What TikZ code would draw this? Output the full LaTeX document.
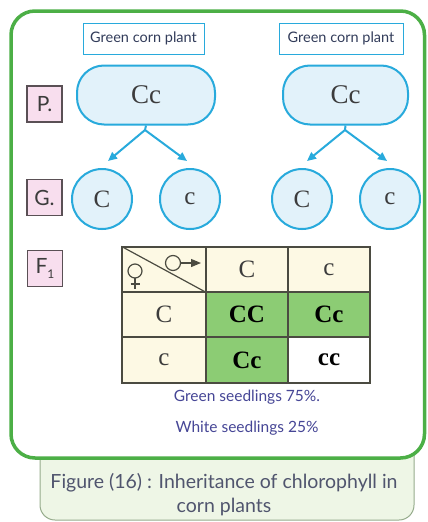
\documentclass[tikz,border=0pt]{standalone}
\usepackage{fontspec}
\setmainfont{Liberation Serif}
\newfontfamily\labelfont{Lato}
\usetikzlibrary{arrows.meta}
\definecolor{frameGreen}{RGB}{76,175,70}
\definecolor{capFill}{RGB}{238,246,230}
\definecolor{capLine}{RGB}{150,172,140}
\definecolor{capText}{RGB}{80,85,110}
\definecolor{cyanLine}{RGB}{40,170,220}
\definecolor{blueFill}{RGB}{226,242,250}
\definecolor{tagFill}{RGB}{248,222,238}
\definecolor{tagLine}{RGB}{90,80,85}
\definecolor{cream}{RGB}{253,249,228}
\definecolor{cellGreen}{RGB}{140,204,116}
\definecolor{gridLine}{RGB}{75,75,65}
\definecolor{seedText}{RGB}{70,70,150}
\definecolor{plantText}{RGB}{50,60,90}
\definecolor{letterText}{RGB}{60,60,60}
\tikzset{
  plantbox/.style={draw=cyanLine, line width=1pt, inner sep=0pt, minimum height=31pt,
    text=plantText, font=\labelfont\fontsize{14.5}{16}\selectfont},
  genobox/.style={draw=cyanLine, fill=blueFill, line width=2pt, rounded corners=27pt,
    minimum height=59pt, inner sep=0pt, text=letterText, font=\fontsize{27}{30}\selectfont},
  gamete/.style={circle, draw=cyanLine, fill=blueFill, line width=2pt, minimum size=60pt,
    inner sep=0pt, text=letterText, font=\fontsize{25}{28}\selectfont},
  tagbox/.style={draw=tagLine, fill=tagFill, line width=1.2pt, minimum width=35pt,
    minimum height=36pt, inner sep=0pt, text=letterText, font=\labelfont\fontsize{21}{22}\selectfont},
  cell/.style={draw=gridLine, line width=1.3pt, minimum height=45pt, inner sep=0pt,
    font=\fontsize{25}{28}\selectfont},
  head/.style={cell, fill=cream, text=letterText},
  inner/.style={cell, text=black, font=\bfseries\fontsize{25}{28}\selectfont},
  garrow/.style={draw=cyanLine, line width=2pt, -{Triangle[length=9pt,width=8pt]}},
  seed/.style={text=seedText, font=\labelfont\fontsize{15.5}{17}\selectfont},
}
\begin{document}
\begin{tikzpicture}[x=1pt,y=-1pt]
\useasboundingbox (0,0) rectangle (428,522);
% caption box
\draw[capLine, fill=capFill, line width=1pt, rounded corners=15pt]
  (40,450) -- (40,520) -- (414,520) -- (414,450);
\node[text=capText, font=\labelfont\fontsize{19.5}{24}\selectfont, align=center]
  (cap) at (224,495) {Figure (16) : Inheritance of chlorophyll in\\corn plants};
% frame
\draw[frameGreen, line width=3.5pt, fill=white, rounded corners=24pt] (11,11) rectangle (424.5,458);
% plant labels
\node[plantbox, minimum width=121pt] (pl1) at (143.5,38.5) {Green corn plant};
\node[plantbox, minimum width=124pt] (pl2) at (341,38.5) {Green corn plant};
% tags
\node[tagbox] (tP) at (44.5,104) {P.};
\node[tagbox] (tG) at (44.5,197.5) {G.};
\node[tagbox] (tF) at (45,268.5) {F\raisebox{-0.4ex}{\fontsize{12}{12}\selectfont 1}};
% parents
\node[genobox, minimum width=138pt] (p1) at (146,95) {Cc};
\node[genobox, minimum width=125pt] (p2) at (345.5,95) {Cc};
% gametes
\node[gamete] (g1) at (102,199) {C};
\node[gamete] (g2) at (190,199) {c};
\node[gamete] (g3) at (302,199) {C};
\node[gamete] (g4) at (390,199) {c};
% arrows
\coordinate (s1) at (145,130);
\coordinate (s2) at (345,130);
\coordinate (e1) at (108,161);
\coordinate (e2) at (187,161);
\coordinate (e3) at (307,161);
\coordinate (e4) at (387,161);
\draw[cyanLine, line width=2pt] (p1.south) -- (s1);
\draw[cyanLine, line width=2pt] (p2.south) -- (s2);
\draw[garrow] (s1) -- (e1);
\draw[garrow] (s1) -- (e2);
\draw[garrow] (s2) -- (e3);
\draw[garrow] (s2) -- (e4);
% Punnett square
\node[head, minimum width=84pt] (c11) at (164,269.5) {};
\node[head, minimum width=82pt] (c12) at (247,269.5) {C};
\node[head, minimum width=82pt] (c13) at (329,269.5) {c};
\node[head, minimum width=84pt] (c21) at (164,314.5) {C};
\node[inner, fill=cellGreen, minimum width=82pt] (c22) at (247,314.5) {CC};
\node[inner, fill=cellGreen, minimum width=82pt] (c23) at (329,314.5) {Cc};
\node[head, minimum width=84pt, minimum height=46pt] (c31) at (164,360) {c};
\node[inner, fill=cellGreen, minimum width=82pt, minimum height=46pt] (c32) at (247,360) {Cc};
\node[inner, fill=white, minimum width=82pt, minimum height=46pt] (c33) at (329,360) {cc};
\draw[gridLine, line width=1.2pt] (c11.north west) -- (c11.south east);
% female symbol
\draw[gridLine, line width=1.2pt] (135,271) circle (7);
\draw[gridLine, line width=1.2pt] (135,278) -- (135,289) (130.5,284) -- (139.5,284);
% male symbol
\draw[gridLine, line width=1.2pt] (173,263) circle (7.5);
\draw[gridLine, line width=1.2pt, -{Triangle[length=10pt,width=8pt]}] (180.5,263) -- (201,263);
% seedling texts
\node[seed] (t1) at (247,397) {Green seedlings 75\%.};
\node[seed] (t2) at (247,428) {White seedlings 25\%};
\end{tikzpicture}
\end{document}
